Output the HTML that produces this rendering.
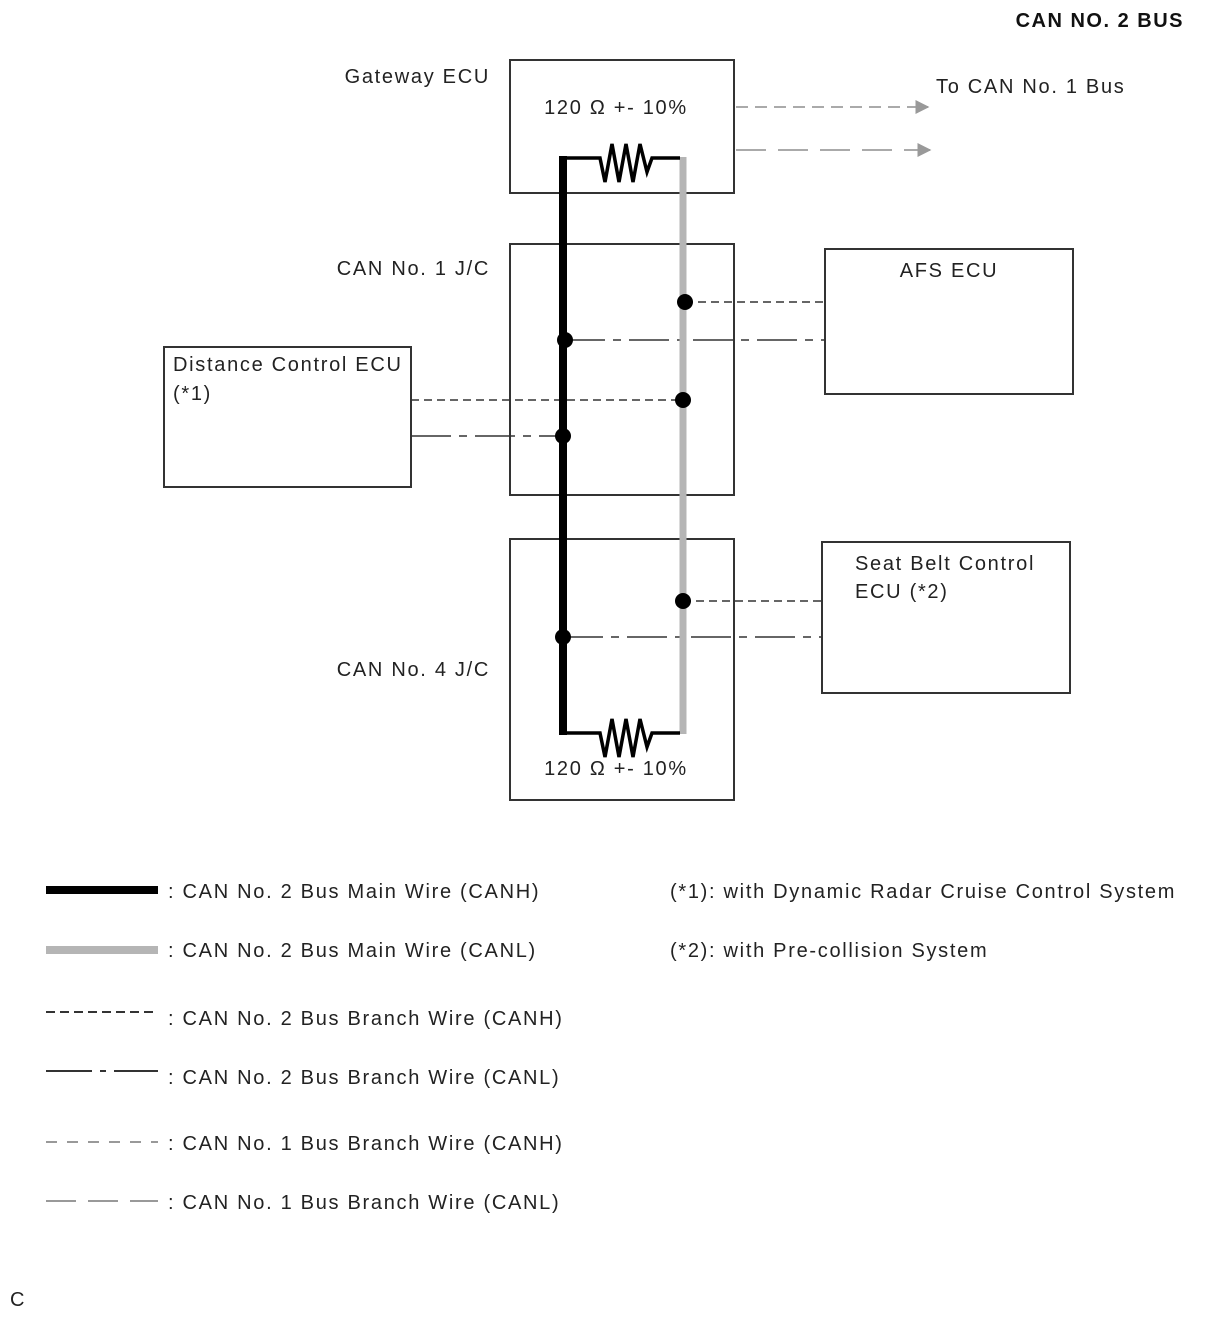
<!DOCTYPE html>
<html><head><style>body{margin:0;background:#fff}svg{display:block}text{font-family:"Liberation Sans",sans-serif;fill:#222;letter-spacing:1.7px}</style></head><body>
<svg width="1210" height="1328" viewBox="0 0 1210 1328">
<defs>
<marker id="ar" viewBox="0 0 10 10" refX="9" refY="5" markerWidth="14" markerHeight="14" markerUnits="userSpaceOnUse" orient="auto"><path d="M0,0 L10,5 L0,10z" fill="#999"/></marker>
</defs>
<text x="1184" y="27" font-size="20" font-weight="bold" text-anchor="end" style="fill:#111;letter-spacing:1.5px">CAN NO. 2 BUS</text>
<g fill="none" stroke="#333" stroke-width="2">
<rect x="510" y="60" width="224" height="133"/>
<rect x="510" y="244" width="224" height="251"/>
<rect x="510" y="539" width="224" height="261"/>
<rect x="825" y="249" width="248" height="145"/>
<rect x="164" y="347" width="247" height="140"/>
<rect x="822" y="542" width="248" height="151"/>
</g>
<g font-size="20">
<text x="490" y="83" text-anchor="end">Gateway ECU</text>
<text x="490" y="275" text-anchor="end">CAN No. 1 J/C</text>
<text x="490" y="676" text-anchor="end">CAN No. 4 J/C</text>
<text x="616" y="114" text-anchor="middle">120 Ω +- 10%</text>
<text x="616" y="775" text-anchor="middle">120 Ω +- 10%</text>
<text x="936" y="93">To CAN No. 1 Bus</text>
<text x="949" y="277" text-anchor="middle">AFS ECU</text>
<text x="173" y="371">Distance Control ECU</text>
<text x="173" y="400">(*1)</text>
<text x="855" y="570">Seat Belt Control</text>
<text x="855" y="598">ECU (*2)</text>
</g>
<line x1="736" y1="107" x2="928" y2="107" stroke="#aaa" stroke-width="2" stroke-dasharray="12,7" marker-end="url(#ar)"/>
<line x1="736" y1="150" x2="930" y2="150" stroke="#aaa" stroke-width="2" stroke-dasharray="30,12" marker-end="url(#ar)"/>
<g stroke="#333" stroke-width="1.6" fill="none">
<line x1="685" y1="302" x2="825" y2="302" stroke-dasharray="8,5"/>
<line x1="411" y1="400" x2="683" y2="400" stroke-dasharray="8,5"/>
<line x1="683" y1="601" x2="822" y2="601" stroke-dasharray="8,5"/>
<line x1="565" y1="340" x2="825" y2="340" stroke-dasharray="40,8,8,8"/>
<line x1="411" y1="436" x2="563" y2="436" stroke-dasharray="40,8,8,8"/>
<line x1="563" y1="637" x2="822" y2="637" stroke-dasharray="40,8,8,8"/>
</g>
<line x1="683" y1="157" x2="683" y2="734" stroke="#b5b5b5" stroke-width="7"/>
<polyline points="680,158 652,158 647,172 640,144 633,182 626,144 619,182 612,144 605,182 600,158 563,158" fill="none" stroke="#000" stroke-width="3.5" stroke-linejoin="miter"/>
<polyline points="680,733 652,733 647,747 640,719 633,757 626,719 619,757 612,719 605,757 600,733 563,733" fill="none" stroke="#000" stroke-width="3.5"/>
<line x1="563" y1="156" x2="563" y2="735" stroke="#000" stroke-width="8"/>
<g fill="#000">
<circle cx="685" cy="302" r="8"/><circle cx="565" cy="340" r="8"/>
<circle cx="683" cy="400" r="8"/><circle cx="563" cy="436" r="8"/>
<circle cx="683" cy="601" r="8"/><circle cx="563" cy="637" r="8"/>
</g>
<line x1="46" y1="890" x2="158" y2="890" stroke="#000" stroke-width="8"/>
<line x1="46" y1="950" x2="158" y2="950" stroke="#b5b5b5" stroke-width="8"/>
<line x1="46" y1="1012" x2="158" y2="1012" stroke="#333" stroke-width="2" stroke-dasharray="9,5"/>
<line x1="46" y1="1071" x2="158" y2="1071" stroke="#333" stroke-width="2" stroke-dasharray="46,8,6,8"/>
<line x1="46" y1="1142" x2="158" y2="1142" stroke="#999" stroke-width="2" stroke-dasharray="11,10"/>
<line x1="46" y1="1201" x2="158" y2="1201" stroke="#999" stroke-width="2" stroke-dasharray="30,12"/>
<g font-size="20">
<text x="168" y="898">: CAN No. 2 Bus Main Wire (CANH)</text>
<text x="168" y="957">: CAN No. 2 Bus Main Wire (CANL)</text>
<text x="168" y="1025">: CAN No. 2 Bus Branch Wire (CANH)</text>
<text x="168" y="1084">: CAN No. 2 Bus Branch Wire (CANL)</text>
<text x="168" y="1150">: CAN No. 1 Bus Branch Wire (CANH)</text>
<text x="168" y="1209">: CAN No. 1 Bus Branch Wire (CANL)</text>
<text x="670" y="898">(*1): with Dynamic Radar Cruise Control System</text>
<text x="670" y="957">(*2): with Pre-collision System</text>
<text x="10" y="1306">C</text>
</g>
</svg>
</body></html>
